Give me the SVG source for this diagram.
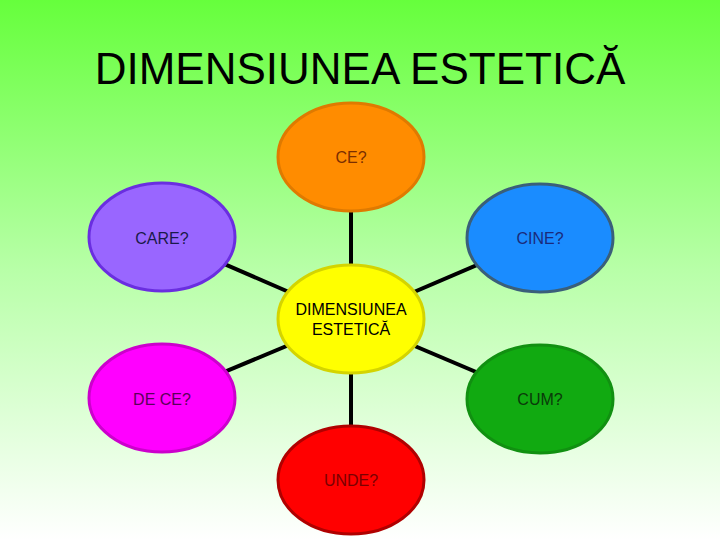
<svg xmlns="http://www.w3.org/2000/svg" width="720" height="540" viewBox="0 0 720 540">
  <defs>
    <linearGradient id="bg" x1="0" y1="0" x2="0" y2="1">
      <stop offset="0" stop-color="#66ff3c"/>
      <stop offset="0.5" stop-color="#b8ffa8"/>
      <stop offset="1" stop-color="#ffffff"/>
    </linearGradient>
  </defs>
  <style>
    .node ellipse { stroke-width: 3; }
    .lbl { font-family: "Liberation Sans", Arial, sans-serif; font-size: 16px; text-anchor: middle; }
    .title { font-family: "Liberation Sans", Arial, sans-serif; font-size: 44px; text-anchor: middle; fill: #000; }
    .conn line { stroke: #000; stroke-width: 4; }
  </style>
  <rect x="0" y="0" width="720" height="540" fill="url(#bg)"/>
  <text class="title" x="360" y="84">DIMENSIUNEA ESTETICĂ</text>
  <g id="connectors" class="conn">
    <line x1="351" y1="319" x2="351" y2="157"/>
    <line x1="351" y1="319" x2="162" y2="237"/>
    <line x1="351" y1="319" x2="540" y2="238"/>
    <line x1="351" y1="319" x2="162" y2="398"/>
    <line x1="351" y1="319" x2="540" y2="399"/>
    <line x1="351" y1="319" x2="351" y2="480"/>
  </g>
  <g id="node-ce" class="node">
    <ellipse cx="351" cy="157" rx="73" ry="54" fill="#ff8c00" stroke="#df7a00"/>
    <text class="lbl" x="351" y="163" fill="#7a2e00">CE?</text>
  </g>
  <g id="node-care" class="node">
    <ellipse cx="162" cy="237" rx="73" ry="54" fill="#9966ff" stroke="#6a2ee0"/>
    <text class="lbl" x="162" y="244" fill="#1a1a4a">CARE?</text>
  </g>
  <g id="node-cine" class="node">
    <ellipse cx="540" cy="238" rx="73" ry="54" fill="#1a8cff" stroke="#3a5f7a"/>
    <text class="lbl" x="540" y="244" fill="#1a2a7a">CINE?</text>
  </g>
  <g id="node-center" class="node">
    <ellipse cx="351" cy="319" rx="73" ry="54" fill="#ffff00" stroke="#d4d400"/>
    <text class="lbl" x="351" y="315" fill="#000">DIMENSIUNEA</text>
    <text class="lbl" x="351" y="335" fill="#000">ESTETICĂ</text>
  </g>
  <g id="node-dece" class="node">
    <ellipse cx="162" cy="398" rx="73" ry="54" fill="#ff00ff" stroke="#cc00cc"/>
    <text class="lbl" x="162" y="405" fill="#5a005a">DE CE?</text>
  </g>
  <g id="node-cum" class="node">
    <ellipse cx="540" cy="399" rx="73" ry="54" fill="#11aa11" stroke="#119011"/>
    <text class="lbl" x="540" y="405" fill="#0a3a0a">CUM?</text>
  </g>
  <g id="node-unde" class="node">
    <ellipse cx="351" cy="480" rx="73" ry="54" fill="#ff0000" stroke="#b00000"/>
    <text class="lbl" x="351" y="486" fill="#7a0000">UNDE?</text>
  </g>
</svg>
